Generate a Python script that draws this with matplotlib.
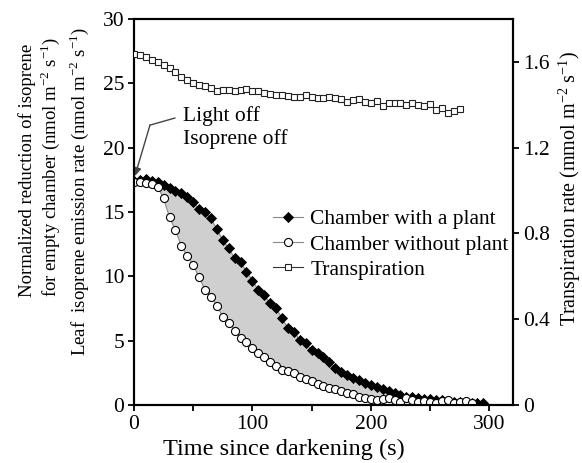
import numpy as np
import matplotlib
matplotlib.use("Agg")
import matplotlib.pyplot as plt

plt.rcParams['font.family'] = ['Liberation Serif', 'DejaVu Serif']
plt.rcParams['mathtext.fontset'] = 'custom'
plt.rcParams['mathtext.rm'] = 'Liberation Serif'

# time grids (s)
t_plant = np.arange(0, 300, 5)
t_empty = np.arange(0, 290, 5)
t_trans = np.arange(0, 280, 5)

# isoprene, chamber with a plant (nmol m-2 s-1)
plant = [17.4, 17.48, 17.54, 17.43, 17.35, 17.09, 16.83, 16.65, 16.5, 16.14,
         15.8, 15.2, 15.01, 14.5, 13.65, 12.82, 12.18, 11.4, 11.14, 10.36,
         9.66, 8.94, 8.55, 7.9, 7.51, 6.74, 5.96, 5.7, 5.05, 4.8,
         4.27, 4.06, 3.7, 3.37, 2.85, 2.59, 2.33, 2.07, 1.94, 1.73,
         1.55, 1.37, 1.22, 1.1, 0.95, 0.8, 0.65, 0.6, 0.55, 0.5,
         0.44, 0.4, 0.35, 0.3, 0.25, 0.2, 0.18, 0.15, 0.13, 0.12]

# isoprene, chamber without plant (normalized)
empty = [17.35, 17.35, 17.27, 17.14, 16.96, 16.06, 14.58, 13.6, 12.38, 11.58,
         10.88, 9.92, 8.94, 8.42, 7.72, 6.86, 6.4, 5.77, 5.18, 4.92,
         4.41, 4.02, 3.76, 3.37, 3.03, 2.72, 2.67, 2.46, 2.2, 2.05,
         1.88, 1.65, 1.48, 1.3, 1.22, 1.11, 0.95, 0.85, 0.65, 0.52,
         0.44, 0.39, 0.44, 0.52, 0.39, 0.26, 0.52, 0.39, 0.26, 0.33,
         0.25, 0.18, 0.3, 0.39, 0.13, 0.26, 0.31, 0.13]

# transpiration rate (mmol m-2 s-1)
trans = [1.636, 1.632, 1.622, 1.609, 1.601, 1.586, 1.570, 1.555, 1.528, 1.516,
         1.503, 1.493, 1.488, 1.477, 1.466, 1.469, 1.469, 1.466, 1.469, 1.472,
         1.466, 1.465, 1.454, 1.451, 1.446, 1.446, 1.441, 1.435, 1.438, 1.446,
         1.435, 1.431, 1.431, 1.438, 1.431, 1.426, 1.415, 1.423, 1.426, 1.415,
         1.410, 1.419, 1.395, 1.407, 1.410, 1.410, 1.399, 1.407, 1.399, 1.395,
         1.403, 1.376, 1.384, 1.363, 1.373, 1.379]

fs = 15.5

fig = plt.figure(figsize=(5.82, 4.63), dpi=100)
ax = fig.add_axes([0.2302, 0.1253, 0.6512, 0.8337])
ax2 = ax.twinx()

# grey area between the two isoprene curves
n = len(empty)
ax.fill_between(t_empty, empty, plant[:n], color='#cfcfcf', lw=0, zorder=1)

l1, = ax.plot(t_plant, plant, color='#888888', lw=0.8, marker='D', ms=5.0,
              mfc='black', mec='black', mew=0.6, zorder=3,
              label='Chamber with a plant')
l2, = ax.plot(t_empty, empty, color='#888888', lw=0.8, marker='o', ms=5.8,
              mfc='white', mec='black', mew=0.8, zorder=4,
              label='Chamber without plant')
l3, = ax2.plot(t_trans, trans, color='#333333', lw=0.8, marker='s', ms=4.6,
               mfc='white', mec='#222222', mew=0.8, zorder=3,
               label='Transpiration')

ax.set_xlim(0, 320)
ax.set_ylim(0, 30)
ax2.set_ylim(0, 1.8)
ax.set_xticks(np.arange(0, 301, 50))
ax.set_xticklabels(['0', '', '100', '', '200', '', '300'])
ax.set_yticks(np.arange(0, 31, 5))
ax2.set_yticks([0, 0.4, 0.8, 1.2, 1.6])
ax2.set_yticklabels(['0', '0.4', '0.8', '1.2', '1.6'])

for a in (ax, ax2):
    for s in a.spines.values():
        s.set_linewidth(1.5)
    a.tick_params(direction='out', length=4, width=1.3, labelsize=fs, pad=3)

fig.text(284 / 582, 1 - 449 / 463, 'Time since darkening (s)',
         ha='center', va='center', fontsize=17.5)

# annotation
ax.plot([13.5, 34.5], [21.75, 22.3], color='#444444', lw=1.0)
ax.annotate('', xy=(0.8, 17.8), xytext=(13.5, 21.75),
            arrowprops=dict(arrowstyle='-|>', color='#444444', lw=1.0,
                            mutation_scale=12, shrinkA=0, shrinkB=0))
ax.text(41, 21.55, 'Light off\nIsoprene off', fontsize=fs, va='center',
        ha='left', linespacing=1.2)

ax.legend(handles=[l1, l2, l3], loc='upper left',
          bbox_to_anchor=(0.344, 0.53), frameon=False, fontsize=fs,
          handlelength=1.4, handletextpad=0.33, labelspacing=0.25,
          borderaxespad=0)

# y labels
ylfs = 13.5
fig.text(27 / 582, 1 - 297 / 463, 'Normalized reduction of isoprene',
         rotation=90, ha='center', va='bottom', fontsize=ylfs)
fig.text(50 / 582, 1 - 297 / 463,
         r'for empty chamber (nmol m$^{-2}$ s$^{-1}$)',
         rotation=90, ha='center', va='bottom', fontsize=ylfs)
fig.text(79 / 582, 1 - 192 / 463,
         r'Leaf  isoprene emission rate (nmol m$^{-2}$ s$^{-1}$)',
         rotation=90, ha='center', va='center', fontsize=ylfs)
fig.text(570 / 582, 1 - 188 / 463,
         r'Transpiration rate (mmol m$^{-2}$ s$^{-1}$)',
         rotation=90, ha='center', va='center', fontsize=14.5)

fig.savefig('out.png', dpi=100)
